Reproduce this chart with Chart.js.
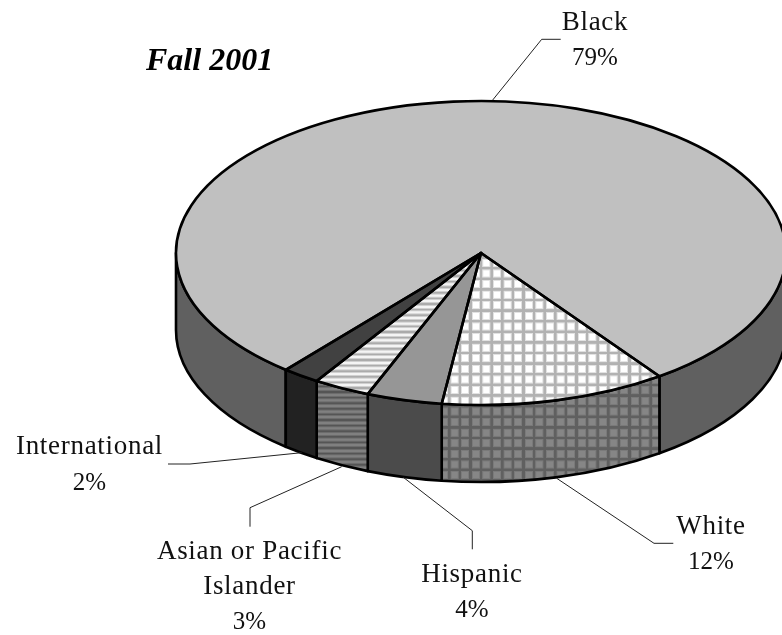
<!DOCTYPE html>
<html lang="en">
<head>
    <meta charset="UTF-8">
    <title>Fall 2001</title>
    <style>
        html, body { margin: 0; padding: 0; background: #fff; overflow: hidden; }
        canvas { display: block; }
    </style>
    <script src="https://cdn.jsdelivr.net/npm/chart.js"></script>
</head>
<body>
    <canvas id="pieChart" width="782" height="635"></canvas>

    <script>
        const chartTitle = 'Fall 2001';
        const groups = ['Black', 'White', 'Hispanic', 'Asian or Pacific Islander', 'International'];
        const shares = [79, 12, 4, 3, 2];

        const FONT = '"Liberation Serif", serif';
        const PIE_X = 481;      // where the pie centre sits on the page
        const PIE_Y = 253;
        const SQUASH = 0.4984;  // flattening of the top face
        const DEPTH = 77;       // height of the side wall
        const OUTLINE = 2.6;

        // tile at twice the size it ends up, so the period need not be a whole pixel
        const GRID_TILE = 21;
        const STRIPE_TILE = 11;

        function gridTile(base, halo, line) {
            const c = document.createElement('canvas');
            c.width = c.height = GRID_TILE;
            const g = c.getContext('2d');
            g.fillStyle = base;
            g.fillRect(0, 0, GRID_TILE, GRID_TILE);
            g.fillStyle = halo;
            g.fillRect(0, 0, GRID_TILE, 9);
            g.fillRect(0, 0, 9, GRID_TILE);
            g.fillStyle = line;
            g.fillRect(0, 2, GRID_TILE, 5);
            g.fillRect(2, 0, 5, GRID_TILE);
            return c;
        }

        function stripeTile(light, mid, dark) {
            const c = document.createElement('canvas');
            c.width = c.height = STRIPE_TILE;
            const g = c.getContext('2d');
            g.fillStyle = light;
            g.fillRect(0, 0, STRIPE_TILE, STRIPE_TILE);
            g.fillStyle = mid;
            g.fillRect(0, 0, STRIPE_TILE, 7);
            g.fillStyle = dark;
            g.fillRect(0, 2, STRIPE_TILE, 3);
            return c;
        }

        const ctx = document.getElementById('pieChart').getContext('2d');
        const gridTop = ctx.createPattern(gridTile('#ffffff', '#e2e2e2', '#b2b2b2'), 'repeat');
        const gridWall = ctx.createPattern(gridTile('#868686', '#7a7a7a', '#606060'), 'repeat');
        const stripeTop = ctx.createPattern(stripeTile('#f4f4f4', '#d0d0d0', '#ababab'), 'repeat');
        const stripeWall = ctx.createPattern(stripeTile('#808080', '#6c6c6c', '#555555'), 'repeat');

        const topFills = ['#c0c0c0', gridTop, '#969696', stripeTop, '#414141'];
        const wallFills = ['#606060', gridWall, '#4b4b4b', stripeWall, '#222222'];

        function tileMatrix(period, tile, x, y) {
            return new DOMMatrix().translate(x, y).scale(period / tile);
        }

        gridWall.setTransform(tileMatrix(10.6, GRID_TILE, 447, 414.5));
        stripeWall.setTransform(tileMatrix(5.6, STRIPE_TILE, 0, 407));

        // text blocks and their leader lines, page coordinates
        const callouts = [
            { lines: ['Black', '79%'], x: 595, y: [30, 65], leader: [[492.7, 100], [541.7, 39.3], [560.7, 39.3]] },
            { lines: ['White', '12%'], x: 711, y: [534, 569], leader: [[556.7, 478.3], [654, 543.3], [673.3, 543.3]] },
            { lines: ['Hispanic', '4%'], x: 472, y: [582, 617], leader: [[403.3, 477.3], [472.3, 530.7], [472.3, 549.3]] },
            { lines: ['Asian or Pacific', 'Islander', '3%'], x: 249.5, y: [559, 594, 629], leader: [[341.7, 466.7], [250, 507.7], [250, 526.7]] },
            { lines: ['International', '2%'], x: 89.5, y: [454, 490], leader: [[168, 464], [190, 464], [301.7, 452.7]] }
        ];

        function applySquash(c, arc) {
            c.translate(PIE_X, PIE_Y);
            c.scale(1, SQUASH);
            c.translate(-arc.x, -arc.y);
        }

        // the visible part of a slice's wall is its overlap with the front half, 0..PI
        function frontParts(start, end) {
            const parts = [];
            for (let k = -1; k <= 1; k++) {
                const a = Math.max(start + k * 2 * Math.PI, 0);
                const b = Math.min(end + k * 2 * Math.PI, Math.PI);
                if (b > a) parts.push([a, b]);
            }
            return parts;
        }

        const pie3d = {
            id: 'pie3d',
            beforeDatasetsDraw(chart) {
                const c = chart.ctx;
                const arcs = chart.getDatasetMeta(0).data;
                c.save();
                c.lineWidth = OUTLINE;
                c.lineJoin = 'round';
                c.strokeStyle = '#000';
                arcs.forEach((arc, i) => {
                    const rx = arc.outerRadius;
                    const ry = rx * SQUASH;
                    frontParts(arc.startAngle, arc.endAngle).forEach(([a, b]) => {
                        c.beginPath();
                        c.ellipse(PIE_X, PIE_Y, rx, ry, 0, a, b);
                        c.ellipse(PIE_X, PIE_Y + DEPTH, rx, ry, 0, b, a, true);
                        c.closePath();
                        c.fillStyle = wallFills[i];
                        c.fill();
                        c.stroke();
                    });
                });
                c.restore();

                c.save();
                applySquash(c, arcs[0]);
                // the fills run through the squash, so undo it for the patterns
                const undo = c.getTransform().inverse();
                gridTop.setTransform(undo.multiply(tileMatrix(10.6, GRID_TILE, 447, 382.5)));
                stripeTop.setTransform(undo.multiply(tileMatrix(5.6, STRIPE_TILE, 0, 375)));
            },
            afterDatasetsDraw(chart) {
                const c = chart.ctx;
                c.restore();
                c.save();
                c.lineWidth = OUTLINE;
                c.lineJoin = 'round';
                c.strokeStyle = '#000';
                chart.getDatasetMeta(0).data.forEach(arc => {
                    c.save();
                    applySquash(c, arc);
                    c.beginPath();
                    c.moveTo(arc.x, arc.y);
                    c.arc(arc.x, arc.y, arc.outerRadius, arc.startAngle, arc.endAngle);
                    c.closePath();
                    c.restore();
                    c.stroke();
                });
                c.restore();
            },
            afterDraw(chart) {
                const c = chart.ctx;
                c.save();
                c.fillStyle = '#000';
                c.font = 'italic bold 32px ' + FONT;
                c.textAlign = 'left';
                c.textBaseline = 'alphabetic';
                c.fillText(chartTitle, 146, 70);

                c.textAlign = 'center';
                c.fillStyle = '#111';
                callouts.forEach(item => {
                    item.lines.forEach((text, i) => {
                        const isShare = text.endsWith('%');
                        c.font = (isShare ? '25px ' : '27px ') + FONT;
                        c.letterSpacing = isShare ? '0px' : '0.7px';
                        c.fillText(text, item.x, item.y[i]);
                    });
                    c.beginPath();
                    item.leader.forEach(([x, y], i) => i ? c.lineTo(x, y) : c.moveTo(x, y));
                    c.lineWidth = 1;
                    c.strokeStyle = '#222';
                    c.stroke();
                });
                c.restore();
            }
        };

        new Chart(ctx, {
            type: 'pie',
            data: {
                labels: groups,
                datasets: [{
                    data: shares,
                    backgroundColor: topFills,
                    borderWidth: 0,
                    clip: false
                }]
            },
            options: {
                responsive: false,
                animation: false,
                rotation: 219.8,
                // left padding leaves exactly 610px, the pie is moved to PIE_X when drawn
                layout: { padding: { left: 172, right: 0, top: 12, bottom: 13 } },
                plugins: {
                    legend: { display: false },
                    title: { display: false },
                    tooltip: { enabled: false }
                }
            },
            plugins: [pie3d]
        });
    </script>
</body>
</html>
